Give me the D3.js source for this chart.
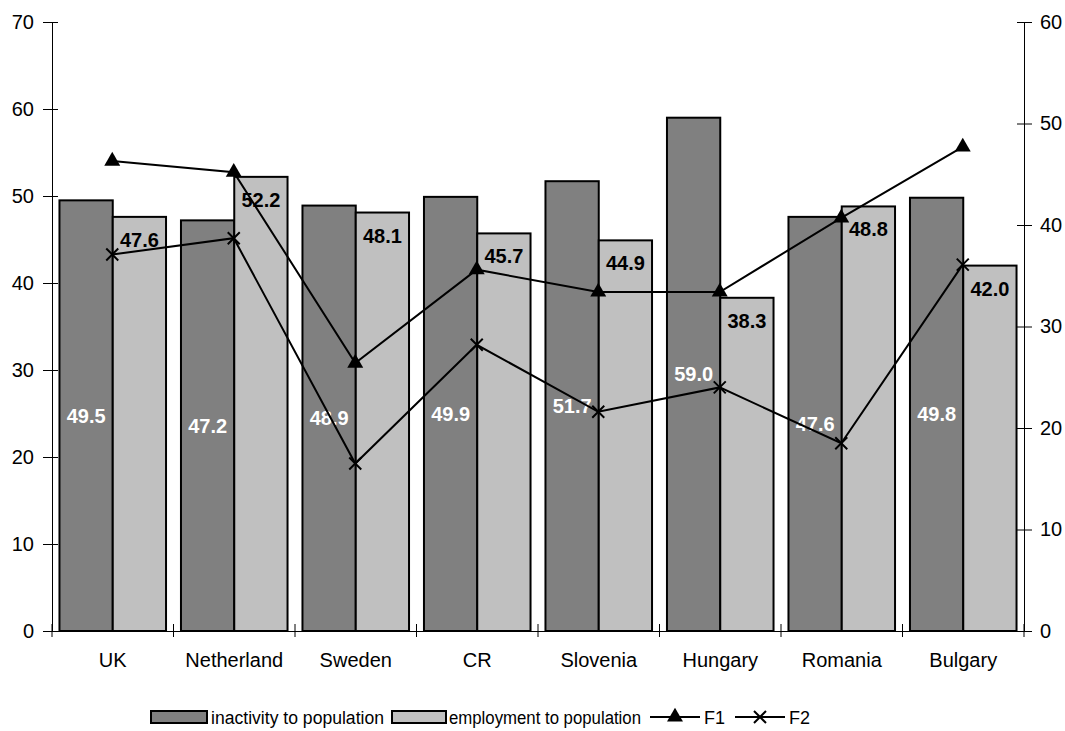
<!DOCTYPE html>
<html>
<head>
<meta charset="utf-8">
<script src="https://cdn.jsdelivr.net/npm/d3@7/dist/d3.min.js"></script>
<style>
  html, body { margin: 0; padding: 0; background: #fff; }
  svg { display: block; font-family: Arial, "Liberation Sans", sans-serif; }
</style>
</head>
<body>
<svg id="chart" width="1065" height="731"></svg>
<script>
// Countries along the x axis
const countries = ["UK", "Netherland", "Sweden", "CR", "Slovenia", "Hungary", "Romania", "Bulgary"];
// Bar series (left axis)
const inactivity = [49.5, 47.2, 48.9, 49.9, 51.7, 59.0, 47.6, 49.8];
const employment = [47.6, 52.2, 48.1, 45.7, 44.9, 38.3, 48.8, 42.0];
// Line series (right axis)
const f1 = [46.3, 45.2, 26.4, 35.6, 33.4, 33.4, 40.7, 47.7];
const f2 = [37.1, 38.7, 16.5, 28.2, 21.6, 24.0, 18.5, 36.1];
// Axis ticks
const leftTicks = [0, 10, 20, 30, 40, 50, 60, 70];
const rightTicks = [0, 10, 20, 30, 40, 50, 60];

const svg = d3.select("#chart");
const plotL = 52, plotR = 1024, plotT = 22, plotB = 631;

const x = d3.scaleBand().domain(countries).range([plotL, plotR]).paddingInner(0).paddingOuter(0);
const yL = d3.scaleLinear().domain([0, 70]).range([plotB, plotT]);
const yR = d3.scaleLinear().domain([0, 60]).range([plotB, plotT]);

const bw = x.bandwidth();
const pad = bw * 0.0615;
const barW = (bw - 2 * pad) / 2;
const center = c => x(c) + bw / 2 - 0.5;

// Bars
const g = svg.append("g");
g.selectAll("rect.inact").data(countries).join("rect")
  .attr("class", "inact")
  .attr("x", c => x(c) + pad)
  .attr("y", (c, i) => yL(inactivity[i]))
  .attr("width", barW)
  .attr("height", (c, i) => yL(0) - yL(inactivity[i]))
  .attr("fill", "#808080").attr("stroke", "#000").attr("stroke-width", 2);

g.selectAll("rect.emp").data(countries).join("rect")
  .attr("class", "emp")
  .attr("x", c => x(c) + pad + barW)
  .attr("y", (c, i) => yL(employment[i]))
  .attr("width", barW)
  .attr("height", (c, i) => yL(0) - yL(employment[i]))
  .attr("fill", "#c0c0c0").attr("stroke", "#000").attr("stroke-width", 2);

// Axes
const axisStyle = sel => {
  sel.select(".domain").attr("stroke", "#000").attr("stroke-width", 1);
  sel.selectAll(".tick line").attr("stroke", "#000");
  sel.selectAll(".tick text").attr("font-size", 20).attr("fill", "#000")
     .attr("font-family", "Arial, 'Liberation Sans', sans-serif");
};

const axL = svg.append("g").attr("transform", `translate(${plotL},0)`)
  .call(d3.axisLeft(yL).tickValues(leftTicks).tickSize(0).tickPadding(18).tickSizeOuter(0));
axisStyle(axL);
axL.selectAll(".tick line").attr("x1", -9).attr("x2", 6);

const axR = svg.append("g").attr("transform", `translate(${plotR},0)`)
  .call(d3.axisRight(yR).tickValues(rightTicks).tickSize(0).tickPadding(16).tickSizeOuter(0));
axisStyle(axR);
axR.selectAll(".tick line").attr("x1", -7).attr("x2", 8);

// Category axis
const axB = svg.append("g").attr("transform", `translate(0,${plotB})`)
  .call(d3.axisBottom(x).tickSize(0).tickPadding(24).tickSizeOuter(0));
axisStyle(axB);
axB.selectAll(".tick text").attr("dy", "0.71em").attr("transform", "translate(0,-2)");
// Separators between categories
svg.append("g").selectAll("line").data(d3.range(0, countries.length + 1)).join("line")
  .attr("x1", i => plotL + i * bw).attr("x2", i => plotL + i * bw)
  .attr("y1", plotB - 7).attr("y2", plotB + 6)
  .attr("stroke", "#000").attr("stroke-width", 1);

// Value labels inside the dark bars
g.selectAll("text.inact").data(countries).join("text")
  .attr("class", "inact")
  .attr("x", c => x(c) + pad + barW / 2)
  .attr("y", (c, i) => yL(inactivity[i] / 2) + 7)
  .attr("text-anchor", "middle").attr("font-size", 20).attr("font-weight", "bold")
  .attr("fill", "#fff")
  .text((c, i) => inactivity[i].toFixed(1));

// Lines
const line = d3.line();
const pts1 = countries.map((c, i) => [center(c), yR(f1[i])]);
const pts2 = countries.map((c, i) => [center(c), yR(f2[i])]);

svg.append("path").attr("d", line(pts1)).attr("fill", "none").attr("stroke", "#000").attr("stroke-width", 2);
svg.append("path").attr("d", line(pts2)).attr("fill", "none").attr("stroke", "#000").attr("stroke-width", 2);

const tri = d3.symbol().type(d3.symbolTriangle).size(110);
svg.append("g").selectAll("path").data(pts1).join("path")
  .attr("d", tri).attr("transform", d => `translate(${d[0]},${d[1]})`).attr("fill", "#000");

const xMark = s => `M${-s},${-s}L${s},${s}M${-s},${s}L${s},${-s}`;
svg.append("g").selectAll("path").data(pts2).join("path")
  .attr("d", xMark(6)).attr("transform", d => `translate(${d[0]},${d[1]})`)
  .attr("stroke", "#000").attr("stroke-width", 2).attr("fill", "none");

// Value labels near the top of the light bars
g.selectAll("text.emp").data(countries).join("text")
  .attr("class", "emp")
  .attr("x", c => x(c) + pad + barW * 1.5)
  .attr("y", (c, i) => yL(employment[i]) + 30)
  .attr("text-anchor", "middle").attr("font-size", 20).attr("font-weight", "bold")
  .attr("fill", "#000")
  .text((c, i) => employment[i].toFixed(1));

// Legend
const lg = svg.append("g").attr("font-size", 18);
const ly = 717;
lg.append("rect").attr("x", 151).attr("y", ly - 6).attr("width", 56).attr("height", 12)
  .attr("fill", "#808080").attr("stroke", "#000").attr("stroke-width", 2);
lg.append("text").attr("x", 211).attr("y", ly + 6.5).attr("textLength", 173)
  .attr("lengthAdjust", "spacingAndGlyphs").text("inactivity to population");
lg.append("rect").attr("x", 392).attr("y", ly - 6).attr("width", 54).attr("height", 12)
  .attr("fill", "#c0c0c0").attr("stroke", "#000").attr("stroke-width", 2);
lg.append("text").attr("x", 449).attr("y", ly + 6.5).attr("textLength", 192)
  .attr("lengthAdjust", "spacingAndGlyphs").text("employment to population");
lg.append("line").attr("x1", 650).attr("x2", 700).attr("y1", ly).attr("y2", ly).attr("stroke", "#000").attr("stroke-width", 2);
lg.append("path").attr("d", tri).attr("transform", `translate(675,${ly})`).attr("fill", "#000");
lg.append("text").attr("x", 704).attr("y", ly + 6.5).text("F1");
lg.append("line").attr("x1", 735).attr("x2", 785).attr("y1", ly).attr("y2", ly).attr("stroke", "#000").attr("stroke-width", 2);
lg.append("path").attr("d", xMark(6)).attr("transform", `translate(760,${ly})`).attr("stroke", "#000").attr("stroke-width", 2);
lg.append("text").attr("x", 789).attr("y", ly + 6.5).text("F2");
</script>
</body>
</html>
